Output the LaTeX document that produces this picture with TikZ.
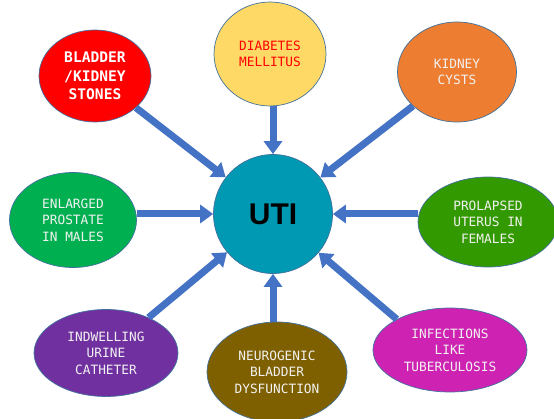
\documentclass[tikz,border=0pt]{standalone}
\usepackage{fontspec}
\setmonofont{DejaVu Sans Mono}
\newfontfamily\utifont{Liberation Sans}
\usepackage{tikz}
\usetikzlibrary{shapes.geometric,arrows.meta}

\definecolor{arrowblue}{HTML}{4472C4}
\definecolor{rimblue}{HTML}{41719C}
\definecolor{stonered}{HTML}{FF0000}
\definecolor{diabyellow}{HTML}{FFD966}
\definecolor{cystorange}{HTML}{ED7D31}
\definecolor{prostgreen}{HTML}{00B050}
\definecolor{uterusgreen}{HTML}{339900}
\definecolor{cathpurple}{HTML}{7030A0}
\definecolor{neurobrown}{HTML}{7F6000}
\definecolor{infmagenta}{HTML}{CE22B2}
\definecolor{utiteal}{HTML}{0099B3}

\begin{document}
\begin{tikzpicture}[x=1pt,y=-1pt,
	cause/.style={ellipse,draw=rimblue,line width=0.7pt,inner sep=0pt,align=center,
		font=\ttfamily\fontsize{12.8}{16.5}\selectfont,text=white!95!black},
	feed/.style={draw=arrowblue,line width=7pt,-{Triangle[width=18pt,length=13pt]},fill=arrowblue}]
	\useasboundingbox (0,0) rectangle (554,419);
	% Nodes
	\node[circle,draw=rimblue,line width=0.7pt,fill=utiteal,minimum size=119pt,inner sep=0pt,
		font=\utifont\bfseries\fontsize{30}{34}\selectfont] (uti) at (273,214) {UTI};
	\node[cause,fill=stonered,minimum width=112pt,minimum height=92pt,text=white,
		font=\ttfamily\bfseries\fontsize{14.6}{18.3}\selectfont] (stones) at (95,76) {BLADDER\\/KIDNEY\\STONES};
	\node[cause,fill=diabyellow,minimum width=112pt,minimum height=104pt,text=stonered] (diab) at (270,54) {DIABETES\\MELLITUS};
	\node[cause,fill=cystorange,minimum width=119pt,minimum height=100pt] (cysts) at (457,72) {KIDNEY\\CYSTS};
	\node[cause,fill=prostgreen,minimum width=127pt,minimum height=95pt] (prost) at (73,220) {ENLARGED\\PROSTATE\\IN MALES};
	\node[cause,fill=uterusgreen,minimum width=140pt,minimum height=90pt] (uterus) at (488,222) {PROLAPSED\\UTERUS IN\\FEMALES};
	\node[cause,fill=cathpurple,minimum width=144pt,minimum height=87pt] (cath) at (106,353) {INDWELLING\\URINE\\CATHETER};
	\node[cause,fill=neurobrown,minimum width=140pt,minimum height=100pt] (neuro) at (277,372) {NEUROGENIC\\BLADDER\\DYSFUNCTION};
	\node[cause,fill=infmagenta,minimum width=154pt,minimum height=84pt] (infect) at (450,350) {INFECTIONS\\LIKE\\TUBERCULOSIS};
	% Edges
	\draw[feed] (stones) -- (uti);
	\draw[feed] (diab.south -| uti) -- (uti);
	\draw[feed] (cysts) -- (uti);
	\draw[feed] (prost.east |- uti) -- (uti);
	\draw[feed] (uterus.west |- uti) -- (uti);
	\draw[feed] (cath) -- (uti);
	\draw[feed] (neuro.north -| uti) -- (uti);
	\draw[feed] (infect.150) -- (uti);
\end{tikzpicture}
\end{document}
